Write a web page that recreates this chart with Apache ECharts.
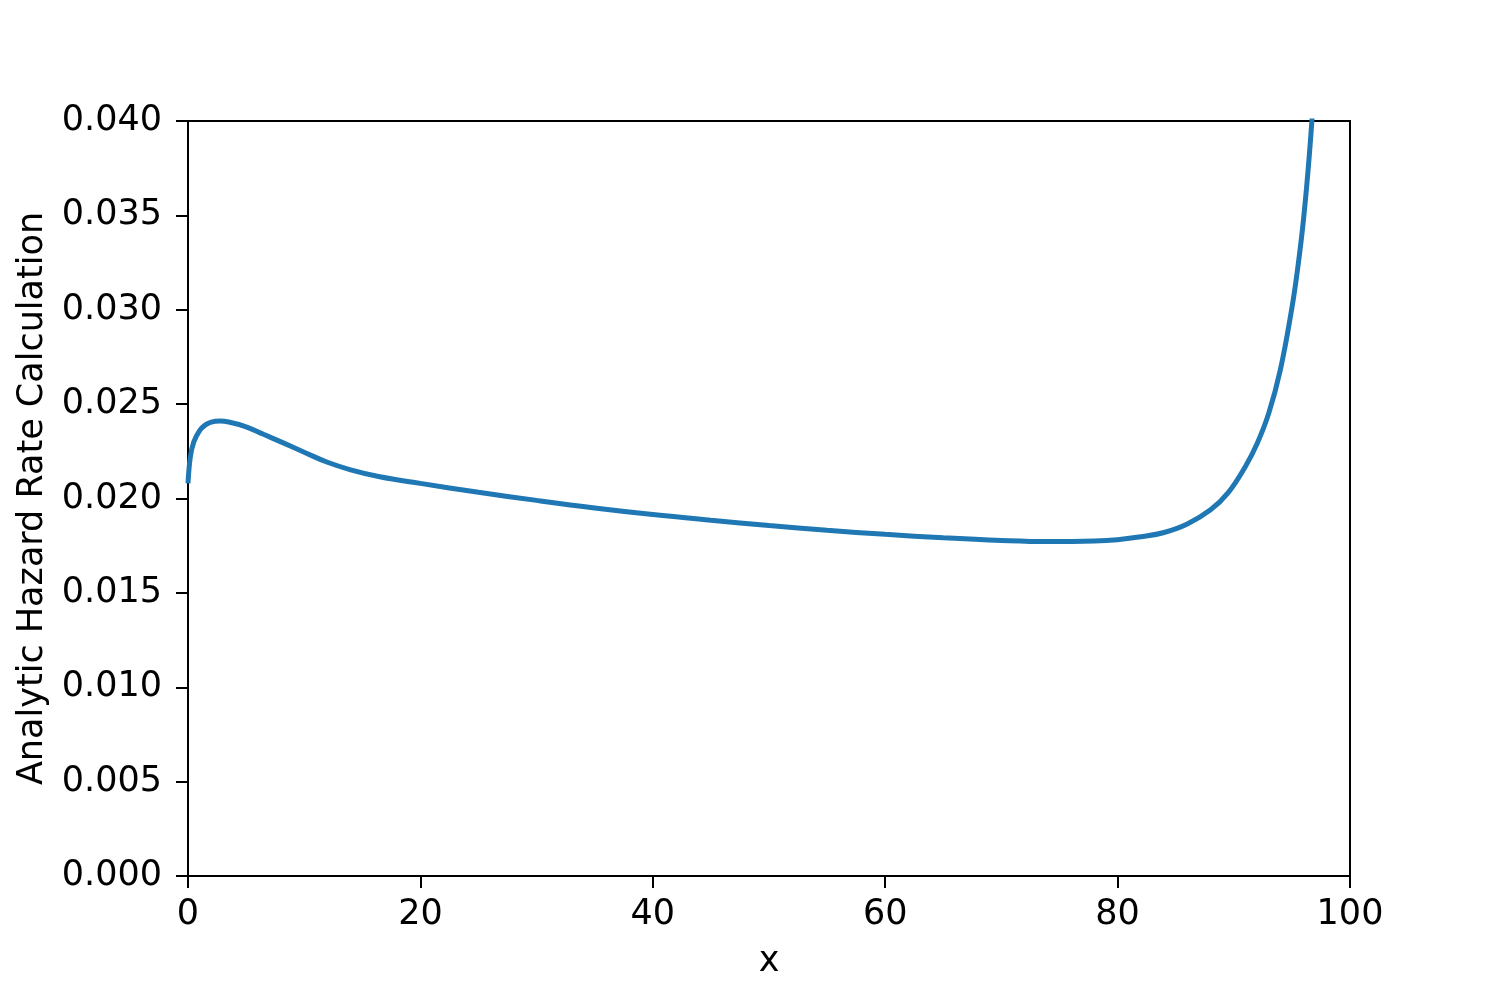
<!DOCTYPE html>
<html>
<head>
<meta charset="utf-8">
<script src="https://cdn.jsdelivr.net/npm/echarts@6/dist/echarts.min.js"></script>
<style>
    html, body { margin: 0; padding: 0; background: #fff; }
    #chart { width: 1500px; height: 1000px; }
</style>
</head>
<body>
<div id="chart"></div>
<script>
// values
const xValues = [0, 0.2, 0.5, 1, 1.5, 2, 2.75, 3.5, 5, 6.5, 8, 10, 12, 14, 16.5, 20, 25, 30, 35, 40,
    45, 50, 55, 60, 65, 70, 74, 78, 80, 82, 84, 86, 88, 89.5, 91, 92, 93, 94, 95, 95.5, 96, 96.5, 97, 97.3];
const hazardValues = [0.0208, 0.0222, 0.0230, 0.0236, 0.0239, 0.02405, 0.0241, 0.02405, 0.0238, 0.0234,
    0.0230, 0.02245, 0.02192, 0.02152, 0.02115, 0.02080, 0.02033, 0.01990, 0.01950, 0.01915,
    0.01885, 0.01857, 0.01832, 0.01810, 0.01792, 0.01778, 0.01772, 0.01775, 0.01782, 0.01797,
    0.0182, 0.01865, 0.0194, 0.0203, 0.0217, 0.0229, 0.0245, 0.0268, 0.0301, 0.0322,
    0.0348, 0.0382, 0.0425, 0.0455];
const xTicks = [0, 20, 40, 60, 80, 100];
const yTicks = [0, 0.005, 0.01, 0.015, 0.02, 0.025, 0.03, 0.035, 0.04];

const FONT = 'DejaVu Sans';

const chart = echarts.init(document.getElementById('chart'), null, { renderer: 'canvas' });

const seriesData = xValues.map((x, i) => [x, hazardValues[i]]);

const axisCommon = {
    type: 'value',
    axisLine: { show: true, lineStyle: { color: '#000', width: 2 } },
    axisTick: { show: true, length: 12, inside: false, lineStyle: { color: '#000', width: 2 } },
    splitLine: { show: false },
    nameTextStyle: { fontFamily: FONT, fontSize: 35, color: '#000' }
};

chart.setOption({
    animation: false,
    backgroundColor: '#fff',
    grid: {
        left: 188,
        right: 150,
        top: 121,
        bottom: 124,
        show: true,
        borderColor: '#000',
        borderWidth: 2,
        backgroundColor: 'transparent'
    },
    xAxis: Object.assign({}, axisCommon, {
        min: xTicks[0],
        max: xTicks[xTicks.length - 1],
        interval: xTicks[1] - xTicks[0],
        name: 'x',
        nameLocation: 'middle',
        nameGap: 68,
        axisLabel: { fontFamily: FONT, fontSize: 35, color: '#000', margin: 21 }
    }),
    yAxis: Object.assign({}, axisCommon, {
        min: yTicks[0],
        max: yTicks[yTicks.length - 1],
        interval: yTicks[1] - yTicks[0],
        name: 'Analytic Hazard Rate Calculation',
        nameLocation: 'middle',
        nameGap: 138,
        axisLabel: {
            fontFamily: FONT, fontSize: 35, color: '#000', margin: 26,
            formatter: v => v.toFixed(3)
        }
    }),
    series: [{
        type: 'line',
        data: seriesData,
        smooth: 0.4,
        showSymbol: false,
        clip: true,
        lineStyle: { color: '#1f77b4', width: 5 },
        itemStyle: { color: '#1f77b4' }
    }]
});
</script>
</body>
</html>
